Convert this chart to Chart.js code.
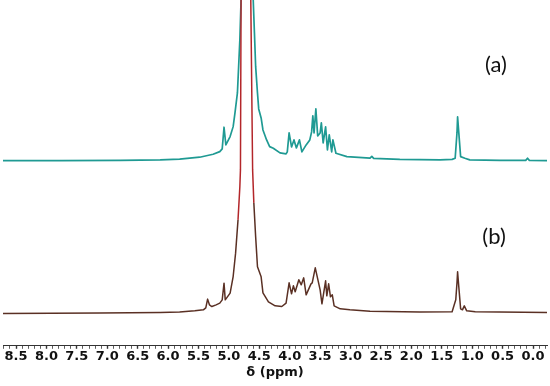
<!DOCTYPE html>
<html>
<head>
<meta charset="utf-8">
<script src="https://cdn.jsdelivr.net/npm/chart.js@4.4.1/dist/chart.umd.min.js"></script>
<style>
  html, body { margin: 0; padding: 0; background: #ffffff; }
  #wrap { width: 550px; height: 386px; position: relative; }
</style>
</head>
<body>
<div id="wrap"><canvas id="c" width="550" height="386"></canvas></div>
<script>
// ---- data ----
// spectrum (a): chemical shift (ppm) and intensity above its own baseline
const ppmA = [8.72, 7.78, 6.79, 6.13, 5.81, 5.48, 5.26, 5.15, 5.11, 5.08, 5.05, 4.98, 4.93, 4.90, 4.86, 4.84, 4.82, 4.80,
  4.70,
  4.60, 4.58, 4.56, 4.53, 4.51, 4.47, 4.44, 4.38, 4.33, 4.27, 4.16, 4.06,
  4.04, 4.01, 3.97, 3.93, 3.89, 3.84, 3.80, 3.73, 3.67, 3.64, 3.62, 3.60, 3.57, 3.54, 3.50, 3.48, 3.45, 3.41, 3.38, 3.35, 3.31, 3.29, 3.24,
  3.06, 2.68, 2.65, 2.62, 2.19, 1.53, 1.33, 1.28, 1.25, 1.24, 1.22, 1.19, 1.12, 1.04, 0.54, 0.12, 0.09, 0.06, -0.23];
const intA = [0.3, 0.3, 0.5, 1.0, 1.7, 3.7, 6.7, 9.3, 12, 33.7, 16, 24.3, 34.3, 48, 68, 94.3, 121, 161,
  700,
  161, 128, 94.3, 68, 52, 43, 31, 21, 14.3, 12.7, 8, 7,
  9, 28, 14, 21, 13, 21, 9, 16, 21, 29, 45, 28, 52, 25, 28, 38, 18, 34, 11, 26, 9, 21, 7.7,
  4.3, 2.7, 4.5, 2.5, 1.5, 1.0, 1.5, 2.7, 28, 44, 28, 4.3, 2.7, 1.0, 0.5, 0.5, 2.7, 0.5, 0.3];

// spectrum (b): chemical shift (ppm) and intensity above its own baseline
const ppmB = [8.72, 7.12, 6.13, 5.81, 5.56, 5.42, 5.38, 5.35, 5.32, 5.28, 5.21, 5.15, 5.11, 5.08, 5.06, 4.98, 4.93, 4.89, 4.85, 4.82, 4.81, 4.80,
  4.72,
  4.64, 4.61, 4.59, 4.56, 4.53, 4.50, 4.47, 4.44, 4.35, 4.24, 4.13, 4.06,
  4.01, 3.97, 3.94, 3.91, 3.85, 3.81, 3.77, 3.73, 3.65, 3.63, 3.58, 3.54, 3.50, 3.47, 3.41, 3.39, 3.36, 3.33, 3.30, 3.27,
  3.17, 3.01, 2.68, 1.86, 1.33, 1.27, 1.25, 1.24, 1.22, 1.19, 1.16, 1.13, 1.09, 0.95, -0.23];
const intB = [0.3, 0.8, 1.3, 1.7, 3, 4, 6, 14.7, 9, 7.3, 9, 10.7, 14, 30.7, 14, 20.7, 37.3, 60.7, 94, 127, 144, 314,
  900,
  314, 144, 111, 77, 47, 42, 37, 21, 12, 8, 7.3, 10.7,
  31, 20, 28, 22, 34, 29, 36, 19, 30, 31, 46, 35, 24, 10, 33, 18, 30, 17, 19, 8,
  5, 4, 2.5, 1.8, 2, 14, 31, 42, 27, 5, 4, 8, 3, 2, 1.3];

// axis tick labels (ppm)
const tickLabels = ['8.5','8.0','7.5','7.0','6.5','6.0','5.5','5.0','4.5','4.0','3.5','3.0','2.5','2.0','1.5','1.0','0.5','0.0'];
const traceNames = ['(a)', '(b)'];

// ---- layout / style ----
const OFFSET_A = 185;
const OFFSET_B = 32;
const COLOR_A = '#1f9a93';
const COLOR_B = '#5a3024';
const COLOR_B_PEAK = '#b3262a';

const toPoints = (xs, ys, off) => xs.map((x, i) => ({ x: x, y: ys[i] + off }));

const labelPlugin = {
  id: 'traceLabels',
  afterDatasetsDraw(chart) {
    const { ctx, scales } = chart;
    const xs = scales.x, ys = scales.y;
    ctx.save();
    ctx.fillStyle = '#111';
    ctx.font = '22px Lato, "Open Sans", sans-serif';
    ctx.textAlign = 'center';
    ctx.textBaseline = 'middle';
    ctx.fillText(traceNames[0], xs.getPixelForValue(0.61), ys.getPixelForValue(281));
    ctx.fillText(traceNames[1], xs.getPixelForValue(0.64), ys.getPixelForValue(109));
    ctx.restore();
  }
};

const isLabel = v => {
  const s = (Math.round(v * 10) / 10).toFixed(1);
  return tickLabels.includes(s) ? s : '';
};

new Chart(document.getElementById('c'), {
  type: 'line',
  data: {
    datasets: [
      {
        label: traceNames[1],
        data: toPoints(ppmB, intB, OFFSET_B),
        borderColor: COLOR_B,
        borderWidth: 1.5,
        pointRadius: 0,
        tension: 0,
        borderJoinStyle: 'round',
        segment: {
          borderColor: c => (c.p0.parsed.y > OFFSET_B + 90 && c.p1.parsed.y > OFFSET_B + 90) ? COLOR_B_PEAK : undefined
        }
      },
      {
        label: traceNames[0],
        data: toPoints(ppmA, intA, OFFSET_A),
        borderColor: COLOR_A,
        borderWidth: 1.7,
        pointRadius: 0,
        tension: 0,
        borderJoinStyle: 'round'
      }
    ]
  },
  options: {
    responsive: false,
    animation: false,
    devicePixelRatio: 1,
    layout: { padding: { left: 3, right: 3, top: 0, bottom: 0 } },
    plugins: { legend: { display: false }, tooltip: { enabled: false } },
    scales: {
      x: {
        type: 'linear',
        reverse: true,
        min: -0.23,
        max: 8.714,
        grid: { drawOnChartArea: false, drawTicks: true, tickLength: 3, tickColor: '#333',
                tickWidth: c => (isLabel(c.tick.value) ? 1.4 : 0.8) },
        border: { display: true, color: '#333', width: 1 },
        ticks: {
          stepSize: 0.1,
          maxTicksLimit: 200,
          includeBounds: false,
          autoSkip: false,
          maxRotation: 0,
          padding: 0,
          color: '#111',
          font: { family: '"DejaVu Sans", Verdana, sans-serif', size: 13, weight: 'bold' },
          callback: v => isLabel(v)
        },
        title: {
          display: true,
          text: 'δ (ppm)',
          color: '#111',
          font: { family: '"DejaVu Sans", Verdana, sans-serif', size: 13, weight: 'bold' },
          padding: { top: 0, bottom: 6 }
        }
      },
      y: {
        display: false,
        min: 0,
        max: 346
      }
    }
  },
  plugins: [labelPlugin]
});
</script>
</body>
</html>
